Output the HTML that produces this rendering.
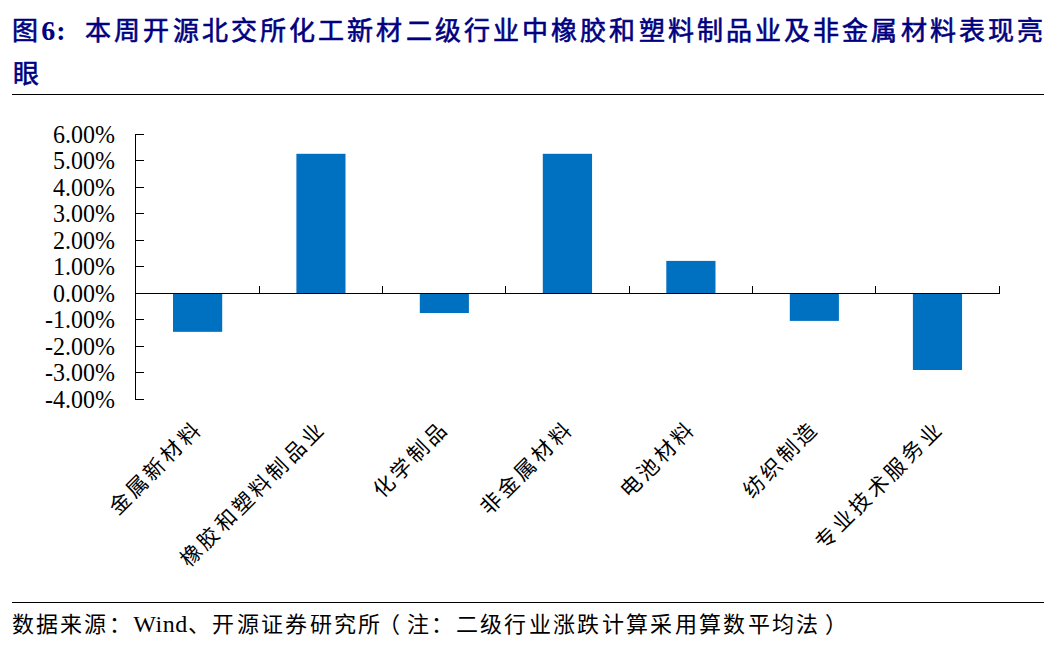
<!DOCTYPE html>
<html lang="zh-CN">
<head>
<meta charset="utf-8">
<style>
html,body{margin:0;padding:0;background:#fff;}
body{width:1054px;height:656px;position:relative;overflow:hidden;font-family:"Liberation Serif",serif;color:#000;}
.t{position:absolute;white-space:nowrap;}
#title{left:12px;top:10px;font-size:26px;font-weight:normal;-webkit-text-stroke:0.6px #000080;color:#000080;letter-spacing:3.12px;line-height:42.6px;}
#title .n{font-size:28px;letter-spacing:1px;font-weight:bold;-webkit-text-stroke:0;}
#title .c{font-size:28px;letter-spacing:19.8px;font-weight:bold;-webkit-text-stroke:0;}
.hr{position:absolute;left:12px;width:1032px;height:1px;background:#000;}
.yl{position:absolute;right:939px;font-size:24px;line-height:26px;height:26px;text-align:right;transform:scaleY(1.08);transform-origin:50% 50%;}
.xl{position:absolute;top:413px;font-size:21px;line-height:24px;letter-spacing:3.4px;transform-origin:100% 50%;transform:rotate(-45deg);text-align:right;}
#foot{left:11.5px;top:610px;font-size:22px;line-height:28px;letter-spacing:2.33px;}
#foot .w{font-size:24px;letter-spacing:0.6px;}
svg{position:absolute;left:0;top:0;}
</style>
</head>
<body>
<div class="t" id="title">图<span class="n">6</span><span class="c">:</span>本周开源北交所化工新材二级行业中橡胶和塑料制品业及非金属材料表现亮<br><span style="position:relative;left:1px">眼</span></div>
<div class="hr" style="top:94px"></div>

<svg width="1054" height="656" viewBox="0 0 1054 656">
  <g fill="#0070c0">
    <rect x="173" y="293.5" width="49.2" height="38.34"/>
    <rect x="296.4" y="153.8" width="49.1" height="139.7"/>
    <rect x="419.8" y="293.5" width="49.1" height="19.5"/>
    <rect x="542.8" y="153.8" width="49.26" height="139.7"/>
    <rect x="666.3" y="260.9" width="49.2" height="32.6"/>
    <rect x="789.8" y="293.5" width="49.1" height="27.4"/>
    <rect x="912.9" y="293.5" width="49.16" height="76.5"/>
  </g>
  <g fill="#000" shape-rendering="crispEdges">
    <rect x="135" y="134" width="1" height="266"/>
    <rect x="135" y="293" width="865" height="1"/>
    <rect x="135" y="134" width="9" height="1"/>
    <rect x="135" y="160" width="9" height="1"/>
    <rect x="135" y="187" width="9" height="1"/>
    <rect x="135" y="213" width="9" height="1"/>
    <rect x="135" y="240" width="9" height="1"/>
    <rect x="135" y="266" width="9" height="1"/>
    <rect x="135" y="319" width="9" height="1"/>
    <rect x="135" y="346" width="9" height="1"/>
    <rect x="135" y="372" width="9" height="1"/>
    <rect x="135" y="399" width="9" height="1"/>
    <rect x="259" y="286" width="1" height="8"/>
    <rect x="382" y="286" width="1" height="8"/>
    <rect x="505" y="286" width="1" height="8"/>
    <rect x="629" y="286" width="1" height="8"/>
    <rect x="752" y="286" width="1" height="8"/>
    <rect x="875" y="286" width="1" height="8"/>
    <rect x="999" y="286" width="1" height="8"/>
  </g>
</svg>

<div class="yl" style="top:121px">6.00%</div>
<div class="yl" style="top:147px">5.00%</div>
<div class="yl" style="top:174px">4.00%</div>
<div class="yl" style="top:200px">3.00%</div>
<div class="yl" style="top:227px">2.00%</div>
<div class="yl" style="top:253px">1.00%</div>
<div class="yl" style="top:280px">0.00%</div>
<div class="yl" style="top:306px">-1.00%</div>
<div class="yl" style="top:333px">-2.00%</div>
<div class="yl" style="top:359px">-3.00%</div>
<div class="yl" style="top:386px">-4.00%</div>

<div class="xl" style="right:855.5px">金属新材料</div>
<div class="xl" style="right:731.5px">橡胶和塑料制品业</div>
<div class="xl" style="right:608.5px">化学制品</div>
<div class="xl" style="right:484.5px">非金属材料</div>
<div class="xl" style="right:361.5px">电池材料</div>
<div class="xl" style="right:238.5px">纺织制造</div>
<div class="xl" style="right:114.5px">专业技术服务业</div>

<div class="hr" style="top:602px"></div>
<div class="t" id="foot">数据来源：<span class="w">Wind</span>、开源证券研究所<span style="margin-left:-5px;margin-right:5px">（</span>注：二级行业涨跌计算采用算数平均法<span style="margin-left:4px">）</span></div>
</body>
</html>
